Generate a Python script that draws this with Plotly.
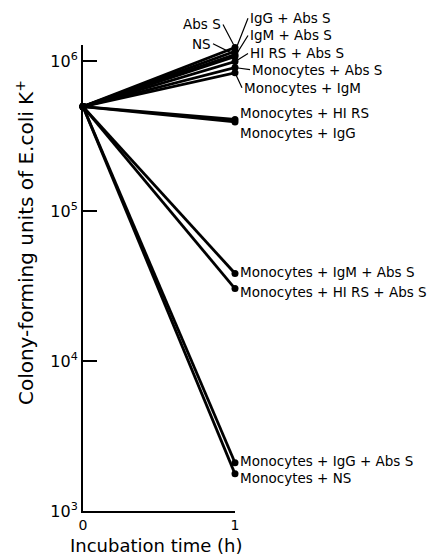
import numpy as np
import plotly.graph_objects as go

# ---- data ----
times = [0, 1]
start_cfu = 5.0e5
conditions = [
    "Abs S", "NS", "IgG + Abs S", "IgM + Abs S", "HI RS + Abs S",
    "Monocytes + Abs S", "Monocytes + IgM", "Monocytes + HI RS", "Monocytes + IgG",
    "Monocytes + IgM + Abs S", "Monocytes + HI RS + Abs S",
    "Monocytes + IgG + Abs S", "Monocytes + NS",
]
end_cfu = [
    1.24e6, 1.11e6, 1.17e6, 1.08e6, 1.0e6,
    9.1e5, 8.4e5, 4.1e5, 3.95e5,
    3.85e4, 3.05e4,
    2.1e3, 1.77e3,
]
ytick_vals = [1e3, 1e4, 1e5, 1e6]
ytick_text = ["10<sup>3</sup>", "10<sup>4</sup>", "10<sup>5</sup>", "10<sup>6</sup>"]
xtick_vals = [0, 1]
xtick_text = ["0", "1"]
x_title = "Incubation time (h)"
y_title = "Colony-forming units of E.coli K<sup>+</sup>"

# ---- label placement (pixels: ax, ay, xanchor, arrow?) ----
label_style = {
    "Abs S": (-12, -23, "right", True),
    "NS": (-22, -11, "right", True),
    "IgG + Abs S": (13, -33, "left", True),
    "IgM + Abs S": (13, -21, "left", True),
    "HI RS + Abs S": (13, -8, "left", True),
    "Monocytes + Abs S": (15, 2, "left", True),
    "Monocytes + IgM": (7, 15, "left", True),
    "Monocytes + HI RS": (3, -7, "left", False),
    "Monocytes + IgG": (3, 11, "left", False),
    "Monocytes + IgM + Abs S": (3, -1, "left", False),
    "Monocytes + HI RS + Abs S": (3, 3, "left", False),
    "Monocytes + IgG + Abs S": (3, -2, "left", False),
    "Monocytes + NS": (3, 4, "left", False),
}

FONT = "DejaVu Sans"
fig = go.Figure()
for name, v in zip(conditions, end_cfu):
    fig.add_trace(go.Scatter(
        x=times, y=[start_cfu, v], mode="lines+markers", name=name,
        line=dict(color="black", width=2.8),
        marker=dict(color="black", size=7),
        cliponaxis=False, showlegend=False,
    ))

annotations = []
for name, v in zip(conditions, end_cfu):
    ax, ay, xa, arrow = label_style[name]
    if arrow:
        annotations.append(dict(
            x=times[1], y=np.log10(v), xref="x", yref="y", text=name,
            showarrow=True, arrowhead=0, arrowwidth=1.2, arrowcolor="black",
            ax=ax, ay=ay, axref="pixel", ayref="pixel",
            xanchor=xa, yanchor="middle", standoff=3,
            font=dict(family=FONT, size=13.5, color="black"),
        ))
    else:
        annotations.append(dict(
            x=times[1], y=np.log10(v), xref="x", yref="y", text=name,
            showarrow=False, xanchor=xa, yanchor="middle",
            xshift=ax, yshift=-ay,
            font=dict(family=FONT, size=13.5, color="black"),
        ))

# axis titles
annotations.append(dict(
    x=0, y=0.575, xref="paper", yref="paper", text=y_title, textangle=-90,
    showarrow=False, xanchor="center", yanchor="middle", xshift=-58,
    font=dict(family=FONT, size=20, color="black"),
))
annotations.append(dict(
    x=0.5, y=-0.075, xref="paper", yref="paper", text=x_title,
    showarrow=False, xanchor="center", yanchor="middle", xshift=-3,
    font=dict(family=FONT, size=18, color="black"),
))

fig.update_layout(
    width=429, height=548,
    margin=dict(l=75, r=202, t=37, b=45),
    paper_bgcolor="white", plot_bgcolor="white",
    font=dict(family=FONT, size=15, color="black"),
    annotations=annotations,
    xaxis=dict(
        range=[0, 1], tickvals=xtick_vals, ticktext=xtick_text,
        showline=True, linecolor="black", linewidth=2,
        ticks="inside", ticklen=10, tickwidth=2, tickcolor="black",
        showgrid=False, zeroline=False, automargin=False,
        tickfont=dict(size=14),
    ),
    yaxis=dict(
        type="log", range=[3, 6.11], tickvals=ytick_vals, ticktext=ytick_text,
        showline=True, linecolor="black", linewidth=2,
        ticks="inside", ticklen=14, tickwidth=2, tickcolor="black",
        showgrid=False, zeroline=False, automargin=False,
        tickfont=dict(size=16),
    ),
)

fig.write_html("out.html")
